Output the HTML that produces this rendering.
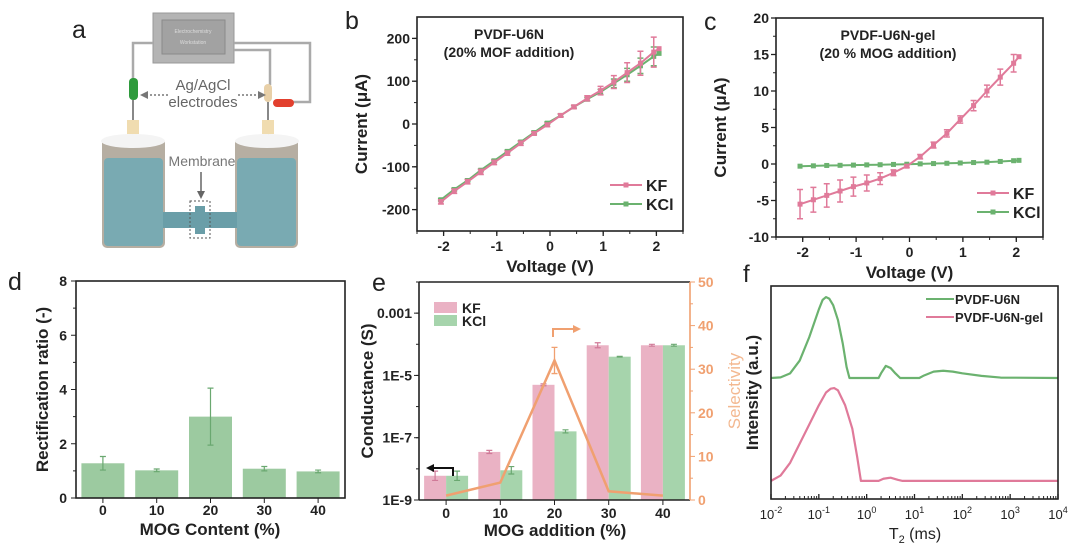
<!DOCTYPE html>
<html><head><meta charset="utf-8"><style>
html,body{margin:0;padding:0;background:#fff;}
svg{display:block;font-family:"Liberation Sans",Arial,sans-serif;}
.t{font-weight:bold;font-size:14px;fill:#222;}
.at{font-weight:bold;font-size:17px;fill:#222;}
.lt{font-size:25px;fill:#222;}
</style></head><body>
<svg id="fig" width="1080" height="548" viewBox="0 0 1080 548" xmlns="http://www.w3.org/2000/svg">
<g>
<text x="72" y="38" class="lt">a</text>
<rect x="153" y="13" width="81" height="50" fill="#b4b4b4" stroke="#999"/>
<rect x="162" y="20" width="63" height="34" fill="#a2a2a2" stroke="#8a8a8a"/>
<text x="193" y="33" font-size="5" fill="#ddd" text-anchor="middle">Electrochemistry</text>
<text x="193" y="44" font-size="5" fill="#ddd" text-anchor="middle">Workstation</text>
<path d="M153,43 H133 V80 M234,43 H310 V102 H293 M234,50 H270 V85" fill="none" stroke="#aaa" stroke-width="2.5"/>
<rect x="129" y="78" width="9" height="22" rx="4" fill="#2e9a3c"/>
<rect x="264" y="84" width="8" height="18" rx="4" fill="#e8d0a8"/>
<rect x="273" y="99" width="21" height="8" rx="4" fill="#e2402e"/>
<line x1="133" y1="100" x2="133" y2="135" stroke="#888" stroke-width="2"/>
<line x1="268" y1="102" x2="268" y2="135" stroke="#888" stroke-width="2"/>
<text x="203" y="90" font-size="15" fill="#666" text-anchor="middle">Ag/AgCl</text>
<text x="203" y="107" font-size="15" fill="#666" text-anchor="middle">electrodes</text>
<path d="M168,95 H146" stroke="#777" stroke-dasharray="2,2" stroke-width="1.5"/><path d="M140,95 l8,-4 v8z" fill="#777"/>
<path d="M238,95 H260" stroke="#777" stroke-dasharray="2,2" stroke-width="1.5"/><path d="M266,95 l-8,-4 v8z" fill="#777"/>
<rect x="127" y="120" width="12" height="14" fill="#f0dcb0"/><rect x="262" y="120" width="12" height="14" fill="#f0dcb0"/>
<rect x="102" y="138" width="63" height="110" rx="5" fill="#b6aea2"/>
<rect x="235" y="138" width="63" height="110" rx="5" fill="#b6aea2"/>
<rect x="104" y="158" width="59" height="88" rx="4" fill="#79aab2"/>
<rect x="237" y="158" width="59" height="88" rx="4" fill="#79aab2"/>
<ellipse cx="133" cy="141" rx="32" ry="7" fill="#f4f4f4"/><ellipse cx="267" cy="141" rx="32" ry="7" fill="#f4f4f4"/>
<rect x="163" y="212" width="74" height="16" fill="#6a9ea8"/>
<rect x="195" y="206" width="10" height="28" fill="#6a9ea8"/>
<rect x="190" y="201" width="20" height="37" fill="none" stroke="#555" stroke-dasharray="2,2"/>
<text x="202" y="166" font-size="14" fill="#777" text-anchor="middle">Membrane</text>
<line x1="201" y1="172" x2="201" y2="192" stroke="#666" stroke-width="1.5"/><path d="M201,199 l-4,-8 h8z" fill="#666"/>
</g>
</svg>
<script>
const bVolt=[-2.05,-1.8,-1.55,-1.3,-1.05,-0.8,-0.55,-0.3,-0.05,0.2,0.45,0.7,0.95,1.2,1.45,1.7,1.95,2.05];
const bKF=[-182,-157,-135,-112,-90,-68,-45,-22,-2,20,40,60,78,98,120,142,168,176];
const bKFerr=[5,5,5,6,5,5,5,4,4,4,4,6,10,15,23,28,35,0];
const bKCl=[-177,-153,-132,-108,-86,-64,-42,-20,2,20,40,58,75,95,115,136,158,165];
const bKClerr=[3,3,3,3,3,3,3,3,3,3,3,4,6,10,15,18,22,0];
const bYTicks=[-200,-100,0,100,200];
const bXTicks=[-2,-1,0,1,2];
const cVolt=[-2.05,-1.8,-1.55,-1.3,-1.05,-0.8,-0.55,-0.3,-0.05,0.2,0.45,0.7,0.95,1.2,1.45,1.7,1.95,2.05];
const cKF=[-5.5,-4.9,-4.3,-3.7,-3.1,-2.6,-2.0,-1.2,-0.3,1.0,2.6,4.2,6.1,8.0,10.0,11.9,13.8,14.7];
const cKFerr=[2.0,1.7,1.6,1.5,1.3,1.1,0.8,0.4,0.2,0.3,0.4,0.5,0.5,0.7,0.8,1.1,1.2,0];
const cKCl=[-0.3,-0.25,-0.2,-0.18,-0.15,-0.12,-0.1,-0.06,-0.03,0.02,0.06,0.1,0.14,0.2,0.25,0.35,0.45,0.5];
const cYTicks=[-10,-5,0,5,10,15,20];
const cXTicks=[-2,-1,0,1,2];
const dCats=["0","10","20","30","40"];
const dRatio=[1.28,1.02,3.0,1.08,0.98];
const dErr=[0.25,0.05,1.05,0.08,0.05];
const dYTicks=[0,2,4,6,8];
const eCats=["0","10","20","30","40"];
const eKF=[6e-9,3.5e-8,5e-6,9.3e-5,9.3e-5];
const eKFerr=[0.15,0.05,0.03,0.08,0.03];
const eKCl=[6e-9,9e-9,1.6e-7,4e-5,9.3e-5];
const eKClerr=[0.15,0.12,0.05,0.01,0.03];
const eSel=[1,4,32,2,1];
const eSelErr=[0,0,3,0,0];
const eYTicks=["1E-9","1E-7","1E-5","0.001"];
const eYTickVals=[1e-9,1e-7,1e-5,1e-3];
const eRTicks=[0,10,20,30,40,50];
const fGreenT=[-2,-1.8,-1.6,-1.4,-1.2,-1.0,-0.92,-0.85,-0.78,-0.7,-0.6,-0.5,-0.42,-0.36,0.25,0.3,0.4,0.5,0.6,0.7,1.1,1.2,1.4,1.6,1.8,2.0,2.4,2.8,4];
const fGreenI=[0.568,0.571,0.59,0.65,0.76,0.89,0.935,0.948,0.94,0.91,0.84,0.73,0.62,0.568,0.568,0.59,0.625,0.615,0.59,0.568,0.568,0.58,0.598,0.602,0.598,0.59,0.578,0.57,0.568];
const fPinkT=[-2,-1.8,-1.6,-1.4,-1.2,-1.0,-0.85,-0.75,-0.68,-0.6,-0.45,-0.3,-0.2,-0.12,0.25,0.35,0.5,0.65,0.75,4];
const fPinkI=[0.085,0.11,0.17,0.26,0.35,0.44,0.50,0.518,0.521,0.51,0.44,0.33,0.2,0.085,0.085,0.095,0.1,0.09,0.085,0.085];
const fXTicks=[-2,-1,0,1,2,3,4];

const NS="http://www.w3.org/2000/svg";
const svg=document.getElementById('fig');
function mk(tag,attrs,parent){const e=document.createElementNS(NS,tag);for(const k in attrs)e.setAttribute(k,attrs[k]);(parent||svg).appendChild(e);return e;}
function txt(x,y,s,cls,anchor,parent){const e=mk('text',{x:x,y:y,'class':cls,'text-anchor':anchor||'middle'},parent);e.textContent=s;return e;}
function lin(d0,d1,r0,r1){return v=>r0+(v-d0)*(r1-r0)/(d1-d0);}
function box(x0,y0,x1,y1,name){const r=mk('rect',{x:x0,y:y0,width:x1-x0,height:y1-y0,fill:'none',stroke:'#222','stroke-width':1.6});

}
const PINK='#e07a9a',GREEN='#6bb26f',ORANGE='#f0a070';

function ivPanel(letter,x0,y0,x1,y1,xd,yd,xt,yt,minor,volt,kf,kfe,kcl,kcle,title1,title2,tx,legX,legY){
  const g=mk('g',{});
  
  
  const X=lin(xd[0],xd[1],x0,x1),Y=lin(yd[0],yd[1],y1,y0);
  box(x0,y0,x1,y1,'plot-frame-'+letter);
  xt.forEach(v=>{mk('line',{x1:X(v),x2:X(v),y1:y1,y2:y1+5,stroke:'#222','stroke-width':1.3},g);
    const l=txt(X(v),y1+20,String(v),'t','middle',g);});
  for(let v=xd[0];v<=xd[1]+1e-9;v+=0.5){mk('line',{x1:X(v),x2:X(v),y1:y1,y2:y1+3,stroke:'#222'},g);}
  yt.forEach(v=>{mk('line',{x1:x0-5,x2:x0,y1:Y(v),y2:Y(v),stroke:'#222','stroke-width':1.3},g);
    const l=txt(x0-7,Y(v)+5,String(v),'t','end',g);});
  for(let v=yt[0];v<=yt[yt.length-1]+1e-9;v+=minor){mk('line',{x1:x0-3,x2:x0,y1:Y(v),y2:Y(v),stroke:'#222'},g);}
  [[kcl,kcle,GREEN,'kcl'],[kf,kfe,PINK,'kf']].forEach(([vals,errs,col,nm])=>{
    const p=mk('polyline',{points:volt.map((v,i)=>X(v)+','+Y(vals[i])).join(' '),fill:'none',stroke:col,'stroke-width':2},g);
    
    
    volt.forEach((v,i)=>{
      if(errs&&errs[i]>0){mk('path',{d:`M${X(v)},${Y(vals[i]-errs[i])}V${Y(vals[i]+errs[i])}M${X(v)-3},${Y(vals[i]-errs[i])}h6M${X(v)-3},${Y(vals[i]+errs[i])}h6`,stroke:col,'stroke-width':1.5,fill:'none'},g);}
      const c=mk('rect',{x:X(v)-2.5,y:Y(vals[i])-2.5,width:5,height:5,fill:col},g);
      
      
    });
  });
  const t1=txt(tx,y0+22,title1,'t','middle',g);
  const t2=txt(tx,y0+40,title2,'t','middle',g);
  [[PINK,'KF',0],[GREEN,'KCl',19]].forEach(([c,s,dy])=>{
    const e=mk('g',{},g);
    mk('line',{x1:legX,x2:legX+32,y1:legY+dy,y2:legY+dy,stroke:c,'stroke-width':2},e);
    mk('rect',{x:legX+13.5,y:legY+dy-2.5,width:5,height:5,fill:c},e);
    txt(legX+36,legY+dy+6,s,'at','start',e).setAttribute('style','font-size:16px');
  });
  const xl=txt((x0+x1)/2,y1+41,'Voltage (V)','at','middle',g);
  const yl=txt(0,0,'Current (μA)','at','middle',g);yl.setAttribute('transform',`translate(${x0-50},${(y0+y1)/2}) rotate(-90)`);
  
  const L=txt(x0-72,y0+12,letter,'lt','start',g);
}
ivPanel('b',417,17,683,231,[-2.5,2.5],[-250,250],bXTicks,bYTicks,50,bVolt,bKF,bKFerr,bKCl,bKClerr,'PVDF-U6N','(20% MOF addition)',509,610,185);
ivPanel('c',776,18,1043,237,[-2.5,2.5],[-10,20],cXTicks,cYTicks,2.5,cVolt,cKF,cKFerr,cKCl,null,'PVDF-U6N-gel','(20 % MOG addition)',888,977,193);

(function(){
  const x0=76,y0=281,x1=345,y1=498;
  const g=mk('g',{});
  const Y=lin(0,8,y1,y0);const step=(x1-x0)/dCats.length;const X=i=>x0+step*(i+0.5);
  dCats.forEach((c,i)=>{
    const b=mk('rect',{x:X(i)-21.5,y:Y(dRatio[i]),width:43,height:y1-Y(dRatio[i]),fill:'#9ccaa0'},g);
    
    const e=dErr[i];
    mk('path',{d:`M${X(i)},${Y(dRatio[i]-e)}V${Y(dRatio[i]+e)}M${X(i)-3},${Y(dRatio[i]-e)}h6M${X(i)-3},${Y(dRatio[i]+e)}h6`,stroke:'#6aa870','stroke-width':1.2,fill:'none'},g);
    mk('line',{x1:X(i),x2:X(i),y1:y1,y2:y1+5,stroke:'#222'},g);
    const l=txt(X(i),y1+17,c,'t','middle',g);
  });
  dYTicks.forEach(v=>{mk('line',{x1:x0-5,x2:x0,y1:Y(v),y2:Y(v),stroke:'#222'},g);
    const l=txt(x0-9,Y(v)+5,String(v),'t','end',g);
    if(v<8)mk('line',{x1:x0-3,x2:x0,y1:Y(v+1),y2:Y(v+1),stroke:'#222'},g);});
  box(x0,y0,x1,y1,'plot-frame-d');
  const xl=txt(210,y1+37,'MOG Content (%)','at','middle',g);
  const yl=txt(0,0,'Rectification ratio (-)','at','middle',g);yl.setAttribute('transform',`translate(48,${(y0+y1)/2}) rotate(-90)`);
  
  const L=txt(8,290,'d','lt','start',g);
})();

(function(){
  const x0=419,y0=282,x1=690,y1=500;
  const g=mk('g',{});
  const LY=v=>lin(-9,-2,y1,y0)(Math.log10(v));const RY=lin(0,50,y1,y0);
  const step=(x1-x0)/eCats.length;const X=i=>x0+step*(i+0.5);
  eCats.forEach((c,i)=>{
    [[eKF,eKFerr,'#eab2c4',-1,'#d07a98','kf'],[eKCl,eKClerr,'#a6d4ac',1,'#6aa870','kcl']].forEach(([arr,er,col,side,ec,nm])=>{
      const cx=X(i)+side*11;const yv=LY(arr[i]);
      const b=mk('rect',{x:cx-11,y:yv,width:22,height:y1-yv,fill:col},g);
      
      const ya=lin(-9,-2,y1,y0)(Math.log10(arr[i])+er[i]),yb=lin(-9,-2,y1,y0)(Math.log10(arr[i])-er[i]);
      mk('path',{d:`M${cx},${ya}V${yb}M${cx-3},${ya}h6M${cx-3},${yb}h6`,stroke:ec,'stroke-width':1.2,fill:'none'},g);
    });
    mk('line',{x1:X(i),x2:X(i),y1:y1,y2:y1+5,stroke:'#222'},g);
    const l=txt(X(i),y1+18,c,'t','middle',g);
  });
  const sp=mk('polyline',{points:eSel.map((v,i)=>X(i)+','+RY(v)).join(' '),fill:'none',stroke:ORANGE,'stroke-width':2.5},g);
  
  eSel.forEach((v,i)=>{if(eSelErr[i]>0){const a=RY(v+eSelErr[i]),b=RY(v-eSelErr[i]);
    mk('path',{d:`M${X(i)},${a}V${b}M${X(i)-3},${a}h6M${X(i)-3},${b}h6`,stroke:ORANGE,'stroke-width':1.3,fill:'none'},g);}});
  eYTickVals.forEach((v,i)=>{mk('line',{x1:x0-5,x2:x0,y1:LY(v),y2:LY(v),stroke:'#222'},g);
    const l=txt(x0-7,LY(v)+5,eYTicks[i],'t','end',g);});
  for(let d=-9;d<=-2;d++){mk('line',{x1:x0-3,x2:x0,y1:lin(-9,-2,y1,y0)(d),y2:lin(-9,-2,y1,y0)(d),stroke:'#222'},g);}
  mk('line',{x1:x0,x2:x1,y1:y1,y2:y1,stroke:'#222','stroke-width':1.6},g);
  mk('line',{x1:x0,x2:x0,y1:y0,y2:y1,stroke:'#222','stroke-width':1.6},g);
  mk('line',{x1:x0,x2:x1,y1:y0,y2:y0,stroke:'#222','stroke-width':1.6},g);
  mk('line',{x1:x1,x2:x1,y1:y0,y2:y1,stroke:ORANGE,'stroke-width':1.6},g);
  eRTicks.forEach(v=>{mk('line',{x1:x1,x2:x1+5,y1:RY(v),y2:RY(v),stroke:ORANGE},g);
    if(v<50)mk('line',{x1:x1,x2:x1+3,y1:RY(v+5),y2:RY(v+5),stroke:ORANGE},g);
    const l=txt(x1+8,RY(v)+5,String(v),'t','start',g);l.setAttribute('style','fill:'+ORANGE);});
  [['#eab2c4','KF',302],['#a6d4ac','KCl',315]].forEach(([c,s,y])=>{
    const e=mk('g',{},g);
    mk('rect',{x:434,y:y,width:23,height:11,fill:c},e);txt(462,y+11,s,'t','start',e);});
  mk('path',{d:'M453,476 V468 H432',stroke:'#111','stroke-width':2,fill:'none'},g);mk('path',{d:'M426,468 l8,-4 v8z',fill:'#111'},g);
  mk('path',{d:'M553,337 V329 H574',stroke:ORANGE,'stroke-width':2,fill:'none'},g);mk('path',{d:'M581,329 l-8,-4 v8z',fill:ORANGE},g);
  const xl=txt(555,y1+36,'MOG addition (%)','at','middle',g);
  const yl=txt(0,0,'Conductance (S)','at','middle',g);yl.setAttribute('transform',`translate(373,${(y0+y1)/2}) rotate(-90)`);
  
  const yr=txt(0,0,'Selectivity','at','middle',g);yr.setAttribute('transform',`translate(740,${(y0+y1)/2}) rotate(-90)`);yr.setAttribute('style','fill:#f3b890;font-weight:normal');
  
  const L=txt(372,291,'e','lt','start',g);
})();

(function(){
  const x0=771,y0=286,x1=1058,y1=499;
  const g=mk('g',{});
  const X=lin(-2,4,x0,x1),Y=lin(0,1,y1,y0);
  [[fGreenT,fGreenI,GREEN,'pvdf-u6n'],[fPinkT,fPinkI,PINK,'pvdf-u6n-gel']].forEach(([t,v,c,nm])=>{
    const p=mk('polyline',{points:t.map((tt,i)=>X(tt)+','+Y(v[i])).join(' '),fill:'none',stroke:c,'stroke-width':2.2,'stroke-linejoin':'round'},g);
    });
  box(x0,y0,x1,y1,'plot-frame-f');
  fXTicks.forEach(v=>{mk('line',{x1:X(v),x2:X(v),y1:y1,y2:y1-5,stroke:'#222','stroke-width':1.3},g);
    if(v<4)for(let k=2;k<10;k++){const xx=X(v+Math.log10(k));mk('line',{x1:xx,x2:xx,y1:y1,y2:y1-3,stroke:'#222'},g);}
    const l=mk('text',{x:X(v),y:y1+20,'class':'t','text-anchor':'middle'},g);l.setAttribute('style','font-weight:normal;font-size:13px');
    
    l.appendChild(document.createTextNode('10'));const s=mk('tspan',{dy:-6,'font-size':9},l);s.textContent=String(v);});
  [[GREEN,'PVDF-U6N',299],[PINK,'PVDF-U6N-gel',317]].forEach(([c,s,y])=>{
    const e=mk('g',{},g);
    mk('line',{x1:926,x2:954,y1:y,y2:y,stroke:c,'stroke-width':2},e);txt(955,y+5,s,'t','start',e).setAttribute('style','font-size:13px');});
  const xl=mk('text',{x:915,y:y1+40,'class':'at','text-anchor':'middle'},g);xl.setAttribute('style','font-weight:normal;font-size:16px');
  
  xl.appendChild(document.createTextNode('T'));const sb=mk('tspan',{dy:4,'font-size':11},xl);sb.textContent='2';
  const rs=mk('tspan',{dy:-4},xl);rs.textContent=' (ms)';
  const yl=txt(0,0,'Intensity (a.u.)','at','middle',g);yl.setAttribute('transform',`translate(758,${(y0+y1)/2}) rotate(-90)`);
  
  const L=txt(771,282,'f','lt','start',g);L.setAttribute('style','font-size:24px');L.setAttribute('transform','translate(-28,0)');
  
})();
</script>
</body></html>
